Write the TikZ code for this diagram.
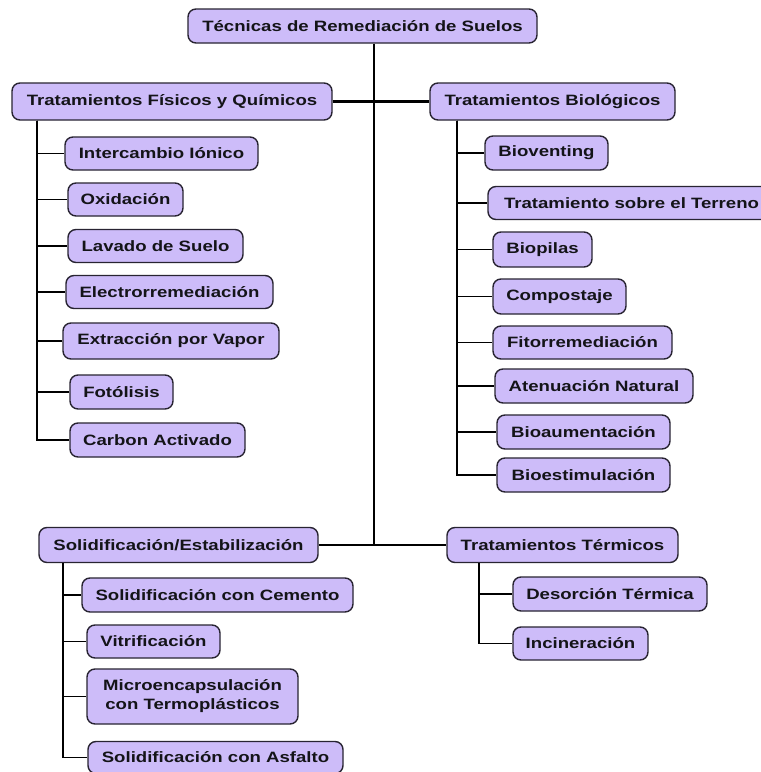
\documentclass[tikz,border=0pt]{standalone}
\usepackage{fontspec}
\newfontfamily\boxfont{Liberation Sans}[FakeStretch=1.24]
\definecolor{boxfill}{RGB}{205,188,249}
\definecolor{boxline}{RGB}{40,36,50}
\definecolor{boxtext}{RGB}{20,20,24}
\begin{document}
\begin{tikzpicture}[x=1pt,y=-1pt,
  tbox/.style={draw=boxline, line width=1.4pt, fill=boxfill, rounded corners=8pt,
    inner sep=0pt, align=center, text=boxtext, font=\boxfont\bfseries\fontsize{15}{19}\selectfont},
  conn/.style={line width=1.3pt, black},
  heavyconn/.style={line width=2.6pt, black}]
\useasboundingbox[fill=white] (0,0) rectangle (761,772);

% root and main branches
\node[tbox, minimum width=349pt, minimum height=34pt] (root) at (362.5,26) {Técnicas de Remediación de Suelos};
\node[tbox, minimum width=320pt, minimum height=37pt] (fq) at (172,101.5) {Tratamientos Físicos y Químicos};
\node[tbox, minimum width=245pt, minimum height=37pt] (bio) at (552.5,101.5) {Tratamientos Biológicos};
\node[tbox, minimum width=279pt, minimum height=35pt] (sol) at (178.5,545) {Solidificación/Estabilización};
\node[tbox, minimum width=231pt, minimum height=35pt] (tt) at (562.5,545) {Tratamientos Térmicos};

% physical / chemical
\node[tbox, minimum width=193pt, minimum height=33pt] (ic) at (161.5,153.5) {Intercambio Iónico};
\node[tbox, minimum width=115pt, minimum height=33pt] (ox) at (125.5,199.5) {Oxidación};
\node[tbox, minimum width=175pt, minimum height=33pt] (lav) at (155.5,246) {Lavado de Suelo};
\node[tbox, minimum width=207pt, minimum height=33pt] (ele) at (169.5,292) {Electrorremediación};
\node[tbox, minimum width=216pt, minimum height=36pt] (ext) at (171,341) {Extracción por Vapor};
\node[tbox, minimum width=103pt, minimum height=34pt] (fot) at (121.5,392) {Fotólisis};
\node[tbox, minimum width=175pt, minimum height=34pt] (car) at (157.5,440) {Carbon Activado};

% biological
\node[tbox, minimum width=123pt, minimum height=34pt] (bv) at (546.5,153) {Bioventing};
\node[tbox, minimum width=287pt, minimum height=33pt] (trt) at (631.5,203) {Tratamiento sobre el Terreno};
\node[tbox, minimum width=99pt, minimum height=35pt] (bp) at (542.5,249.5) {Biopilas};
\node[tbox, minimum width=133pt, minimum height=35pt] (co) at (559.5,296.5) {Compostaje};
\node[tbox, minimum width=179pt, minimum height=33pt] (fi) at (582.5,342.5) {Fitorremediación};
\node[tbox, minimum width=198pt, minimum height=34pt] (atn) at (594,386) {Atenuación Natural};
\node[tbox, minimum width=173pt, minimum height=34pt] (ba) at (583.5,432) {Bioaumentación};
\node[tbox, minimum width=173pt, minimum height=34pt] (be) at (583.5,475) {Bioestimulación};

% solidification
\node[tbox, minimum width=271pt, minimum height=34pt] (ce) at (217.5,595) {Solidificación con Cemento};
\node[tbox, minimum width=133pt, minimum height=33pt] (vi) at (153.5,641.5) {Vitrificación};
\node[tbox, minimum width=211pt, minimum height=55pt] (mi) at (192.5,696.5) {Microencapsulación\\con Termoplásticos};
\node[tbox, minimum width=255pt, minimum height=32pt] (asf) at (215.5,757.5) {Solidificación con Asfalto};

% thermal
\node[tbox, minimum width=194pt, minimum height=34pt] (de) at (610,594) {Desorción Térmica};
\node[tbox, minimum width=135pt, minimum height=33pt] (inc) at (580.5,643.5) {Incineración};

% spine coordinates
\coordinate (hubT) at (374,100);
\coordinate (hubB) at (374,545);
\coordinate (spA) at (37,0);
\coordinate (spB) at (457,0);
\coordinate (spC) at (63,0);
\coordinate (spD) at (479,0);

% connectors
\draw[conn] (root.south -| hubT) -- (hubB);
\draw[heavyconn] (fq.east) -- (bio.west);
\draw[conn] (sol.east) -- (tt.west);

\foreach \c in {ic,ox,lav,ele,ext,fot,car}
  \draw[conn] (fq.south -| spA) |- (\c.west);
\foreach \c in {bv,trt,bp,co,fi,atn,ba,be}
  \draw[conn] (bio.south -| spB) |- (\c.west);
\foreach \c in {vi,mi,asf}
  \draw[conn] (sol.south -| spC) |- (\c.west);
\draw[conn] (sol.south -| spC) -- (ce.west -| spC);
\draw[heavyconn] (ce.west -| spC) -- (ce.west);
\foreach \c in {de,inc}
  \draw[conn] (tt.south -| spD) |- (\c.west);
\end{tikzpicture}
\end{document}
